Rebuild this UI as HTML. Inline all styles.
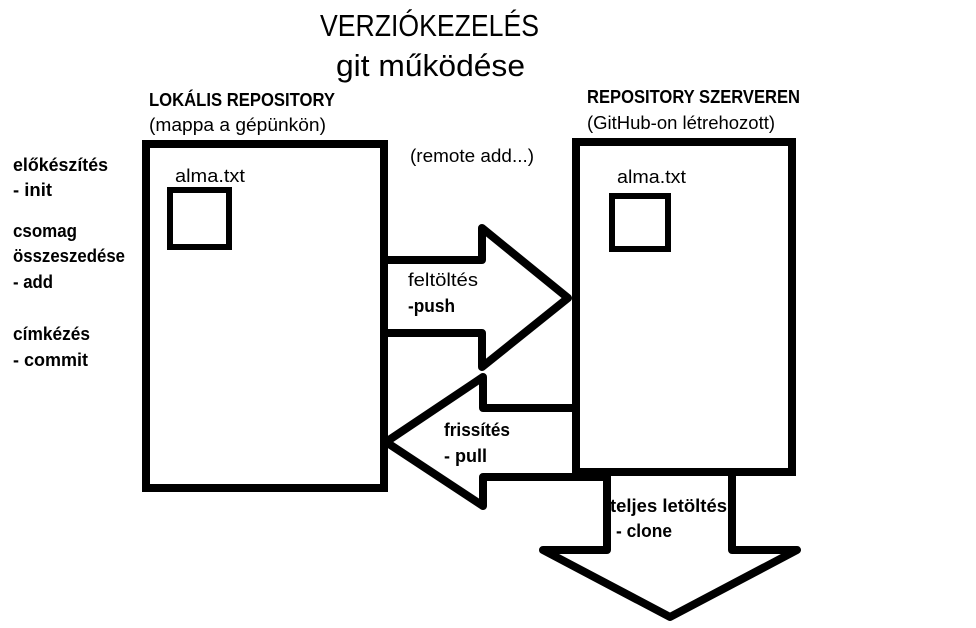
<!DOCTYPE html>
<html><head><meta charset="utf-8"><style>
html,body{margin:0;padding:0;background:#fff;}
svg{display:block;}
text{font-family:"Liberation Sans",sans-serif;fill:#000;}
.b{font-weight:bold;font-size:18px;}
.n{font-size:18px;}
</style></head><body>
<svg width="976" height="628" viewBox="0 0 976 628" xmlns="http://www.w3.org/2000/svg">
<g fill="none" stroke="#000" stroke-width="8" stroke-linejoin="miter">
<rect x="146" y="144" width="238" height="344"/>
<rect x="576" y="142" width="216" height="330"/>
</g>
<g fill="none" stroke="#000" stroke-width="6">
<rect x="170" y="190" width="59" height="57"/>
<rect x="612" y="196" width="56" height="53"/>
</g>
<g fill="none" stroke="#000" stroke-width="8" stroke-linejoin="round" stroke-linecap="square">
<polyline points="388,260 482,260 482,228 568,298 482,367 482,333 388,333"/>
<polyline points="572,408 483,408 483,377 386,442 483,506 483,477 600,477"/>
<polyline points="607,480 607,550 543,550 670,617 797,550 732,550 732,480"/>
</g>
<text x="320" y="36" font-size="31" textLength="219" lengthAdjust="spacingAndGlyphs">VERZIÓKEZELÉS</text>
<text x="336" y="76" font-size="31" textLength="189" lengthAdjust="spacingAndGlyphs">git működése</text>
<text class="b" x="149" y="106" textLength="186" lengthAdjust="spacingAndGlyphs">LOKÁLIS REPOSITORY</text>
<text class="n" x="149" y="131" textLength="177" lengthAdjust="spacingAndGlyphs">(mappa a gépünkön)</text>
<text class="n" x="410" y="162" textLength="124" lengthAdjust="spacingAndGlyphs">(remote add...)</text>
<text class="n" x="175" y="182" textLength="70" lengthAdjust="spacingAndGlyphs">alma.txt</text>
<text class="b" x="587" y="103" textLength="213" lengthAdjust="spacingAndGlyphs">REPOSITORY SZERVEREN</text>
<text class="n" x="587" y="129" textLength="188" lengthAdjust="spacingAndGlyphs">(GitHub-on létrehozott)</text>
<text class="n" x="617" y="183" textLength="69" lengthAdjust="spacingAndGlyphs">alma.txt</text>
<text class="b" x="13" y="171" textLength="95" lengthAdjust="spacingAndGlyphs">előkészítés</text>
<text class="b" x="13" y="196" textLength="39" lengthAdjust="spacingAndGlyphs">- init</text>
<text class="b" x="13" y="237" textLength="64" lengthAdjust="spacingAndGlyphs">csomag</text>
<text class="b" x="13" y="262" textLength="112" lengthAdjust="spacingAndGlyphs">összeszedése</text>
<text class="b" x="13" y="288" textLength="40" lengthAdjust="spacingAndGlyphs">- add</text>
<text class="b" x="13" y="340" textLength="77" lengthAdjust="spacingAndGlyphs">címkézés</text>
<text class="b" x="13" y="366" textLength="75" lengthAdjust="spacingAndGlyphs">- commit</text>
<text class="n" x="408" y="286" textLength="70" lengthAdjust="spacingAndGlyphs">feltöltés</text>
<text class="b" x="408" y="312" textLength="47" lengthAdjust="spacingAndGlyphs">-push</text>
<text class="b" x="444" y="436" textLength="66" lengthAdjust="spacingAndGlyphs">frissítés</text>
<text class="b" x="444" y="462" textLength="43" lengthAdjust="spacingAndGlyphs">- pull</text>
<text class="b" x="610" y="512" textLength="117" lengthAdjust="spacingAndGlyphs">teljes letöltés</text>
<text class="b" x="616" y="537" textLength="56" lengthAdjust="spacingAndGlyphs">- clone</text>
</svg>
</body></html>
